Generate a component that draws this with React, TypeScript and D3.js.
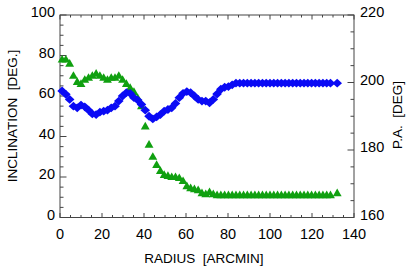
import * as d3 from "d3";
import { useEffect, useRef } from "react";

// radius in arcmin
const radius = [
  1.0, 2.8, 4.6, 6.4, 8.2, 10.0, 11.8, 13.6, 15.4, 17.2, 19.0, 20.8, 22.6, 24.4, 26.2, 28.0,
  29.8, 31.6, 33.4, 35.2, 37.0, 38.8, 40.6, 42.4, 44.2, 46.0, 47.8, 49.6, 51.4, 53.2, 55.0, 56.8,
  58.6, 60.4, 62.2, 64.0, 65.8, 67.6, 69.4, 71.2, 73.0, 74.8, 76.6, 78.4, 80.2, 82.0, 83.8, 85.6,
  87.4, 89.2, 91.0, 92.8, 94.6, 96.4, 98.2, 100.0, 101.8, 103.6, 105.4, 107.2, 109.0, 110.8,
  112.6, 114.4, 116.2, 118.0, 119.8, 121.6, 123.4, 125.2, 127.0, 128.8, 132.0,
];

// inclination (deg, left axis)
const inclination = [
  78, 78, 76, 70, 67, 66, 68, 69, 70, 71, 70, 69, 68, 69, 69, 70,
  68, 66, 64, 62, 59, 55, 45, 36, 30, 26, 23, 21, 20.5, 20, 20, 19.5,
  18, 15.5, 14.5, 14, 13.5, 12, 11.5, 12.5, 11.5, 11, 11, 11, 11, 11, 11, 11,
  11, 11, 11, 11, 11, 11, 11, 11, 11, 11, 11, 11, 11, 11,
  11, 11, 11, 11, 11, 11, 11, 11, 11, 11, 12,
];

// position angle (deg, right axis)
const posAngle = [
  197.5, 196.5, 195, 193, 192.5, 193.3, 192.8, 191.8, 190.7, 190.5, 191.2, 191.5, 191.8, 192.5, 193, 194.5,
  196, 197, 196.8, 195.5, 194.8, 193.5, 191.8, 190, 189.2, 189.8, 190.5, 191.5, 192, 192.5, 193.8, 195.5,
  196.8, 197.3, 197, 196, 195, 194.5, 194.5, 194, 195, 196.6, 198, 198.6, 198.8, 199.3, 199.8, 199.8,
  199.8, 199.8, 199.8, 199.8, 199.8, 199.8, 199.8, 199.8, 199.8, 199.8, 199.8, 199.8, 199.8, 199.8,
  199.8, 199.8, 199.8, 199.8, 199.8, 199.8, 199.8, 199.8, 199.8, 199.8, 199.8,
];

const xTicks = [0, 20, 40, 60, 80, 100, 120, 140];
const leftTicks = [0, 20, 40, 60, 80, 100];
const rightTicks = [160, 180, 200, 220];

function drawChart(node: SVGSVGElement) {
  const width = 415;
  const height = 267;
  const left = 60;
  const right = 354;
  const top = 15;
  const bottom = 217.5;
  const axisColor = "#444";
  const font = "'Liberation Sans', Arial, sans-serif";

  const svg = d3.select(node);
  svg.selectAll("*").remove();
  svg.attr("width", width).attr("height", height).attr("viewBox", `0 0 ${width} ${height}`);

  const x = d3.scaleLinear([0, 140], [left, right]);
  const yL = d3.scaleLinear([0, 100], [bottom, top]);
  const yR = d3.scaleLinear([160, 220], [bottom, top]);

  const g = svg.append("g");

  // frame
  g.append("rect")
    .attr("x", left).attr("y", top)
    .attr("width", right - left).attr("height", bottom - top)
    .attr("fill", "none").attr("stroke", axisColor).attr("stroke-width", 1);

  // x ticks (bottom + top), minor every 5
  d3.range(0, 141, 5).forEach((v) => {
    const len = v % 20 === 0 ? 4.5 : 2.5;
    const px = x(v);
    g.append("line").attr("x1", px).attr("x2", px).attr("y1", bottom).attr("y2", bottom - len).attr("stroke", axisColor);
    g.append("line").attr("x1", px).attr("x2", px).attr("y1", top).attr("y2", top + len).attr("stroke", axisColor);
  });

  // left ticks
  d3.range(0, 101, 5).forEach((v) => {
    const len = v % 20 === 0 ? 6.5 : 3.5;
    g.append("line").attr("x1", left).attr("x2", left + len).attr("y1", yL(v)).attr("y2", yL(v)).attr("stroke", axisColor);
  });

  // right ticks
  d3.range(160, 221, 5).forEach((v) => {
    const len = v % 20 === 0 ? 6.5 : 3.5;
    g.append("line").attr("x1", right).attr("x2", right - len).attr("y1", yR(v)).attr("y2", yR(v)).attr("stroke", axisColor);
  });

  const labels = g.append("g").attr("font-family", font).attr("font-size", 14.5).attr("fill", "#000");

  labels.selectAll(".xl").data(xTicks).join("text")
    .attr("x", (d) => x(d)).attr("y", 238.5)
    .attr("text-anchor", "middle").text((d) => d);

  labels.selectAll(".ll").data(leftTicks).join("text")
    .attr("x", left - 5).attr("y", (d) => yL(d) - 3)
    .attr("dominant-baseline", "central")
    .attr("text-anchor", "end").text((d) => d);

  labels.selectAll(".rl").data(rightTicks).join("text")
    .attr("x", right + 6).attr("y", (d) => yR(d) - 3)
    .attr("dominant-baseline", "central")
    .attr("text-anchor", "start").text((d) => d);

  const titles = g.append("g").attr("font-family", font).attr("font-size", 13.5).attr("fill", "#000")
    .attr("text-anchor", "middle");

  titles.append("text").attr("x", 204).attr("y", 263).text("RADIUS\u00a0 [ARCMIN]");
  titles.append("text").attr("transform", "translate(17,116) rotate(-90)").text("INCLINATION\u00a0 [DEG.]");
  titles.append("text").attr("transform", "translate(402,115) rotate(-90)").text("P.A.\u00a0 [DEG]");

  const marks = g.append("g");

  // inclination triangles
  const tri = d3.symbol(d3.symbolTriangle, 34);
  marks.append("g").attr("fill", "#10a010")
    .selectAll("path").data(radius).join("path")
    .attr("d", tri)
    .attr("transform", (d, i) => `translate(${x(d)},${yL(inclination[i]) + 0.5})`);

  // position angle diamonds
  marks.append("g").attr("fill", "#0a0af5")
    .selectAll("path").data(radius).join("path")
    .attr("d", "M0,-4.4L4.8,0L0,4.4L-4.8,0Z")
    .attr("transform", (d, i) => `translate(${x(d)},${yR(posAngle[i])})`);
}

export default function App() {
  const ref = useRef<SVGSVGElement>(null);
  useEffect(() => {
    if (ref.current) drawChart(ref.current);
  }, []);
  return (
    <svg
      ref={ref}
      width={415}
      height={267}
      style={{ position: "absolute", left: 0, top: 0, background: "#fff" }}
    />
  );
}
